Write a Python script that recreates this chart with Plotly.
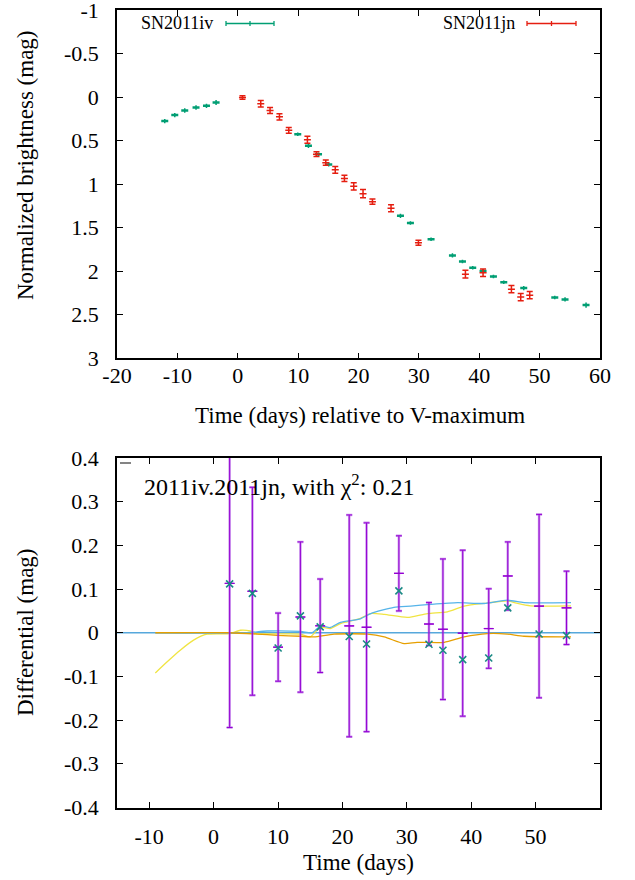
import plotly.graph_objects as go

W, H = 635, 880

# ---------------- data: top panel (light curves) ----------------
iv_days = [-12.09, -10.43, -8.78, -6.91, -5.18, -3.59, 9.94, 11.71, 13.38, 15.07,
           26.95, 28.60, 32.02, 35.56, 37.22, 38.92, 40.63, 42.35, 44.06, 47.37,
           52.51, 54.21, 57.69]
iv_mag = [0.276, 0.207, 0.154, 0.120, 0.100, 0.062, 0.427, 0.559, 0.656, 0.773,
          1.364, 1.445, 1.634, 1.819, 1.888, 1.960, 1.999, 2.060, 2.126, 2.194,
          2.301, 2.324, 2.389]
iv_err = [0.025, 0.025, 0.025, 0.025, 0.025, 0.03, 0.02, 0.025, 0.02, 0.025,
          0.025, 0.02, 0.02, 0.025, 0.02, 0.02, 0.025, 0.02, 0.02, 0.025,
          0.02, 0.025, 0.03]

jn_days = [0.78, 3.81, 5.35, 6.91, 8.45, 11.54, 13.04, 14.58, 16.15, 17.67,
           19.21, 20.75, 22.31, 25.39, 29.93, 37.71, 40.63, 45.33, 46.87, 48.36]
jn_mag = [0.005, 0.077, 0.154, 0.226, 0.381, 0.490, 0.656, 0.754, 0.836, 0.934,
          1.025, 1.109, 1.201, 1.277, 1.673, 2.034, 2.018, 2.206, 2.297, 2.275]
jn_err = [0.02, 0.037, 0.035, 0.036, 0.033, 0.04, 0.027, 0.03, 0.038, 0.036,
          0.042, 0.048, 0.03, 0.04, 0.03, 0.044, 0.042, 0.042, 0.042, 0.042]

top_xticks = [-20, -10, 0, 10, 20, 30, 40, 50, 60]
top_yticks = [-1, -0.5, 0, 0.5, 1, 1.5, 2, 2.5, 3]
top_ylabels = ["-1", "-0.5", "0", "0.5", "1", "1.5", "2", "2.5", "3"]

# ---------------- data: bottom panel (differential) ----------------
diff_days = [2.49, 6.02, 10.02, 13.48, 16.55, 21.06, 23.75, 28.77, 33.44, 35.61,
             38.68, 42.72, 45.68, 50.54, 54.80]
diff_pts = [0.112, 0.090, -0.035, 0.0385, 0.0133, -0.0087, -0.0257, 0.0959, -0.0264,
            -0.040, -0.0615, -0.0578, 0.0569, -0.0028, -0.0064]
diff_ctr = [0.113, 0.095, -0.033, 0.036, 0.016, 0.0157, 0.0126, 0.136, 0.020, 0.008,
            -0.001, 0.0096, 0.130, 0.061, 0.057]
diff_err = [0.33, 0.238, 0.078, 0.172, 0.107, 0.254, 0.239, 0.086, 0.049, 0.161,
            0.19, 0.091, 0.078, 0.21, 0.084]

yellow_x = [-9.05, -7.25, -5.18, -3.11, -1.03, 2.49, 4.15, 5.7, 6.75, 13.5, 15.0, 16.6,
            18.1, 19.7, 20.7, 22.8, 24.4, 26.5, 30.1, 33.2, 36.3, 38.9, 42.5, 45.6,
            47.2, 49.2, 55.5]
yellow_y = [-0.092, -0.067, -0.040, -0.017, -0.0034, -0.002, 0.0057, 0.004, -0.002,
            -0.003, -0.0096, 0.013, 0.0096, 0.021, 0.025, 0.033, 0.044, 0.042, 0.035,
            0.044, 0.048, 0.061, 0.068, 0.073, 0.067, 0.0615, 0.0615]
blue_x = [-9.05, 5.0, 8.3, 13.5, 15.3, 16.6, 18.1, 19.7, 22.8, 24.4, 28.0, 30.6, 33.7,
          37.9, 42.0, 45.6, 48.2, 55.5]
blue_y = [0, 0, 0.004, 0.003, 0, 0.016, 0.012, 0.024, 0.032, 0.044, 0.058, 0.061,
          0.065, 0.069, 0.067, 0.0745, 0.069, 0.069]
orange_x = [-9.05, 2.49, 6.75, 9.9, 13.5, 15.6, 18.7, 23.9, 26.5, 29.6, 31.6, 35.8,
            38.9, 42.5, 45.6, 48.2, 55.5]
orange_y = [0, 0, -0.003, -0.006, -0.008, -0.0096, -0.003, -0.003, -0.0096, -0.025,
            -0.022, -0.022, -0.0096, -0.002, -0.003, -0.008, -0.0096]
zero_x = [-15, 60]
zero_y = [0, 0]

bot_xticks = [-10, 0, 10, 20, 30, 40, 50]
bot_yticks = [-0.4, -0.3, -0.2, -0.1, 0, 0.1, 0.2, 0.3, 0.4]
bot_ylabels = ["-0.4", "-0.3", "-0.2", "-0.1", "0", "0.1", "0.2", "0.3", "0.4"]

GREEN = "#009e73"
RED = "#e51e10"
PURPLE = "#9400d3"
FONT = "'Liberation Serif', Tinos, 'DejaVu Serif', serif"
FS = 22
FT = 23

def px(x):
    return x / W

def py(y):
    return 1 - y / H

fig = go.Figure()

# top panel
fig.add_trace(go.Scatter(
    x=iv_days, y=iv_mag, mode="markers", xaxis="x", yaxis="y",
    marker=dict(symbol="line-ew", size=5, line=dict(color=GREEN, width=2.5)),
    error_y=dict(type="data", array=iv_err, color=GREEN, thickness=1.5, width=0),
    showlegend=False))
fig.add_trace(go.Scatter(
    x=jn_days, y=jn_mag, mode="markers", xaxis="x", yaxis="y",
    marker=dict(symbol="line-ew", size=5, line=dict(color=RED, width=1.5)),
    error_y=dict(type="data", array=jn_err, color=RED, thickness=1.5, width=3),
    showlegend=False))

# bottom panel curves
fig.add_trace(go.Scatter(x=zero_x, y=zero_y, mode="lines", xaxis="x2", yaxis="y2",
                         line=dict(color="#56a8dc", width=1.3), showlegend=False))
fig.add_trace(go.Scatter(x=yellow_x, y=yellow_y, mode="lines", xaxis="x2", yaxis="y2",
                         line=dict(color="#f0e442", width=1.3, shape="spline", smoothing=0.6),
                         showlegend=False))
fig.add_trace(go.Scatter(x=blue_x, y=blue_y, mode="lines", xaxis="x2", yaxis="y2",
                         line=dict(color="#56b4e9", width=1.3, shape="spline", smoothing=0.6),
                         showlegend=False))
fig.add_trace(go.Scatter(x=orange_x, y=orange_y, mode="lines", xaxis="x2", yaxis="y2",
                         line=dict(color="#e69f00", width=1.3, shape="spline", smoothing=0.6),
                         showlegend=False))
# purple error bars (light thick + dark thin)
fig.add_trace(go.Scatter(
    x=diff_days, y=diff_ctr, mode="markers", xaxis="x2", yaxis="y2",
    marker=dict(symbol="line-ew", size=7, line=dict(color=PURPLE, width=1.2)),
    error_y=dict(type="data", array=diff_err, color="rgba(170,80,225,0.6)", thickness=2.5, width=3),
    showlegend=False))
fig.add_trace(go.Scatter(
    x=diff_days, y=diff_ctr, mode="markers", xaxis="x2", yaxis="y2",
    marker=dict(symbol="line-ew", size=7, line=dict(color=PURPLE, width=1.2)),
    error_y=dict(type="data", array=diff_err, color=PURPLE, thickness=1, width=3),
    showlegend=False))
fig.add_trace(go.Scatter(
    x=diff_days, y=diff_pts, mode="markers", xaxis="x2", yaxis="y2",
    marker=dict(symbol="x-thin", size=7, line=dict(color="#1a8a84", width=1.6)),
    showlegend=False))

axis_common = dict(showline=True, linecolor="black", linewidth=1.5, mirror="ticks",
                   ticks="inside", ticklen=6, tickwidth=1, tickcolor="black",
                   showgrid=False, zeroline=False, automargin=False,
                   ticklabeloverflow="allow",
                   tickfont=dict(family=FONT, size=FS, color="black"))

xd = [px(117), px(600)]
fig.update_layout(
    template="none",
    width=W, height=H, margin=dict(l=0, r=0, t=0, b=0, pad=0),
    paper_bgcolor="white", plot_bgcolor="white",
    xaxis=dict(domain=xd, range=[-20.001, 60.001], tickvals=top_xticks,
               ticktext=[str(v) for v in top_xticks], anchor="y",
               ticklabelstandoff=-3, **axis_common),
    yaxis=dict(domain=[py(358.3), py(10)], range=[3.0005, -1.0005], tickvals=top_yticks,
               ticktext=top_ylabels, anchor="x", ticklabelstandoff=12, **axis_common),
    xaxis2=dict(domain=xd, range=[-15, 60], tickvals=bot_xticks,
                ticktext=[str(v) for v in bot_xticks], anchor="y2",
                ticklabelstandoff=8, **axis_common),
    yaxis2=dict(domain=[py(807.5), py(458)], range=[-0.4001, 0.4001], tickvals=bot_yticks,
                ticktext=bot_ylabels, anchor="x2", ticklabelstandoff=12, **axis_common),
)

tf = dict(family=FONT, size=FT, color="black")
ann = [
    dict(text="Normalized brightness (mag)", x=px(25), y=py(165), textangle=-90),
    dict(text="Time (days) relative to V-maximum", x=px(360), y=py(416)),
    dict(text="Differential (mag)", x=px(25), y=py(632), textangle=-90),
    dict(text="Time (days)", x=px(359), y=py(862)),
]
annotations = []
for a in ann:
    a.update(xref="paper", yref="paper", showarrow=False, font=tf,
             xanchor="center", yanchor="middle")
    annotations.append(a)
annotations.append(dict(text="2011iv.2011jn, with χ<sup>2</sup>: 0.21", x=px(142), y=py(485),
                        xref="paper", yref="paper", showarrow=False,
                        font=dict(family=FONT, size=24, color="black"),
                        xanchor="left", yanchor="middle"))
annotations.append(dict(text="SN2011iv", x=px(215), y=py(23), xref="paper", yref="paper",
                        showarrow=False, font=dict(family=FONT, size=18, color="black"),
                        xanchor="right", yanchor="middle"))
annotations.append(dict(text="SN2011jn", x=px(517), y=py(23), xref="paper", yref="paper",
                        showarrow=False, font=dict(family=FONT, size=18, color="black"),
                        xanchor="right", yanchor="middle"))
fig.update_layout(annotations=annotations)

# legend samples
shapes = []
def sample(x0, x1, ycen, color):
    xm = (x0 + x1) / 2
    shapes.append(dict(type="line", xref="paper", yref="paper", x0=px(x0), x1=px(x1),
                       y0=py(ycen), y1=py(ycen), line=dict(color=color, width=1.3)))
    for xx in (x0, xm, x1):
        shapes.append(dict(type="line", xref="paper", yref="paper", x0=px(xx), x1=px(xx),
                           y0=py(ycen - 2.5), y1=py(ycen + 2.5), line=dict(color=color, width=1.3)))
sample(226, 274, 23.5, GREEN)
sample(527, 576, 23.5, RED)
shapes.append(dict(type="line", xref="paper", yref="paper", x0=px(120), x1=px(131),
                   y0=py(463), y1=py(463), line=dict(color="#333333", width=1.2)))
fig.update_layout(shapes=shapes)

fig.write_html("out.html")
